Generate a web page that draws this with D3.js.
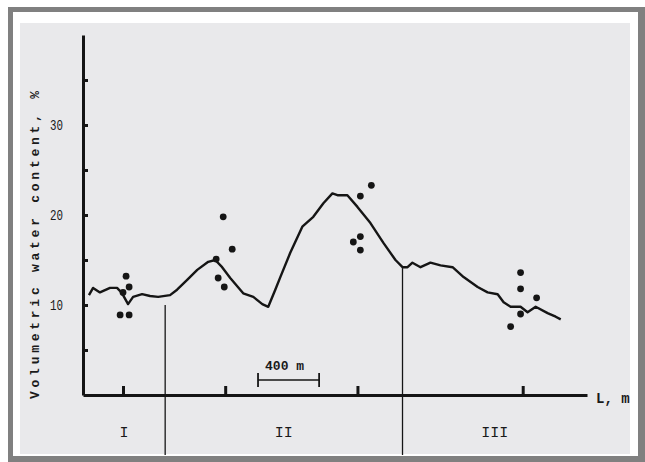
<!DOCTYPE html>
<html>
<head>
<meta charset="utf-8">
<script src="https://cdn.jsdelivr.net/npm/d3@7"></script>
<style>
  html, body { margin: 0; padding: 0; background: #ffffff; }
  svg { display: block; }
  text { font-family: "Liberation Mono", "DejaVu Sans Mono", monospace; fill: #1a1a1a; }
</style>
</head>
<body>
<svg id="chart" width="645" height="462"></svg>
<script>
// ---- data (distance L in metres, volumetric water content in %) ----
const lineL = [39, 66, 111, 177, 223, 256, 295, 328, 387, 439, 492, 570, 616, 682, 748, 820, 866, 911, 964, 1049, 1115, 1174, 1213, 1259, 1292, 1357, 1436, 1508, 1574, 1633, 1666, 1731, 1797, 1882, 1967, 2046, 2092, 2125, 2157, 2210, 2275, 2341, 2420, 2492, 2584, 2649, 2715, 2754, 2800, 2865, 2911, 2964, 3042, 3095, 3128];
const lineW = [11.1, 11.9, 11.4, 11.9, 11.9, 11.3, 10.1, 10.9, 11.2, 11.0, 10.9, 11.1, 11.7, 12.8, 13.9, 14.8, 15.0, 14.2, 13.0, 11.3, 10.9, 10.1, 9.8, 11.7, 13.1, 15.8, 18.7, 19.8, 21.3, 22.4, 22.2, 22.2, 20.9, 19.1, 16.9, 15.0, 14.2, 14.2, 14.7, 14.2, 14.7, 14.4, 14.2, 13.1, 12.0, 11.4, 11.2, 10.3, 9.8, 9.8, 9.2, 9.8, 9.1, 8.7, 8.4];

const pointL = [282, 302, 262, 243, 302, 918, 977, 872, 885, 925, 1816, 1888, 1770, 1816, 1816, 2865, 2865, 2970, 2865, 2800];
const pointW = [13.2, 12.0, 11.4, 8.9, 8.9, 19.8, 16.2, 15.1, 13.0, 12.0, 22.1, 23.3, 17.0, 17.6, 16.1, 13.6, 11.8, 10.8, 9.0, 7.6];

const sampleSitesL = [262, 931, 1797, 2879];        // marks on the L axis
const regionBounds = [538, 2092];                   // boundaries between zones
const regionBoundTopW = [10.0, 14.1];               // where boundary lines start
const regionNames = ["I", "II", "III"];
const yTickValues = [5, 10, 15, 20, 25, 30, 35];
const yTickLabels = [10, 20, 30];
const scaleBarL = [1146, 1546];                      // 400 m scale bar
const scaleBarText = "400 m";
const yTitle = "Volumetric water content, %";
const xTitle = "L, m";

// ---- layout ----
const svg = d3.select("#chart");
svg.append("rect").attr("x", 8).attr("y", 7).attr("width", 637).attr("height", 455).attr("fill", "#808080");
svg.append("rect").attr("x", 13).attr("y", 12).attr("width", 625).attr("height", 444).attr("fill", "#ffffff");
svg.append("rect").attr("x", 20).attr("y", 23).attr("width", 610).attr("height", 431).attr("fill", "#e9e9eb");

const x = d3.scaleLinear().domain([0, 3300]).range([83, 587]);
const y = d3.scaleLinear().domain([0, 40]).range([395, 35]);
const ink = "#151515";

// region boundary lines
svg.append("g").selectAll("line").data(regionBounds).join("line")
  .attr("x1", d => x(d)).attr("x2", d => x(d))
  .attr("y1", (d, i) => y(regionBoundTopW[i])).attr("y2", 455)
  .attr("stroke", ink).attr("stroke-width", 1.3);

// x axis
const xAxis = d3.axisBottom(x).tickValues(sampleSitesL).tickSizeInner(-9).tickSizeOuter(0).tickFormat("");
const gx = svg.append("g").attr("transform", `translate(0,${y(0)})`).call(xAxis);
gx.select(".domain").attr("stroke", ink).attr("stroke-width", 3.2);
gx.selectAll(".tick line").attr("stroke", ink).attr("stroke-width", 3);

// y axis
const yAxis = d3.axisLeft(y).tickValues(yTickValues).tickSizeInner(-5).tickSizeOuter(0).tickPadding(20)
  .tickFormat(d => yTickLabels.includes(d) ? String(d) : "");
const gy = svg.append("g").attr("transform", `translate(${x(0)},0)`).call(yAxis);
gy.select(".domain").attr("stroke", ink).attr("stroke-width", 3);
gy.selectAll(".tick line").attr("stroke", ink).attr("stroke-width", 3);
gy.selectAll(".tick text").attr("font-size", 14).attr("fill", "#222")
  .attr("font-family", "'Liberation Mono', monospace")
  .each(function(d){ if (yTickLabels.includes(d)) d3.select(this).attr("textLength", 13).attr("lengthAdjust", "spacingAndGlyphs"); });

// data line
const line = d3.line().x(d => x(d[0])).y(d => y(d[1])).curve(d3.curveLinear);
svg.append("path").datum(lineL.map((l, i) => [l, lineW[i]]))
  .attr("d", line).attr("fill", "none").attr("stroke", ink)
  .attr("stroke-width", 2.4).attr("stroke-linejoin", "round");

// measured points
svg.append("g").selectAll("circle").data(pointL.map((l, i) => [l, pointW[i]])).join("circle")
  .attr("cx", d => x(d[0])).attr("cy", d => y(d[1])).attr("r", 3.4).attr("fill", ink);

// scale bar
const sb = svg.append("g");
const sbY = 380;
sb.append("line").attr("x1", x(scaleBarL[0])).attr("x2", x(scaleBarL[1])).attr("y1", sbY).attr("y2", sbY)
  .attr("stroke", ink).attr("stroke-width", 1.6);
sb.selectAll(".end").data(scaleBarL).join("line").attr("class", "end")
  .attr("x1", d => x(d)).attr("x2", d => x(d)).attr("y1", sbY - 7).attr("y2", sbY + 7)
  .attr("stroke", ink).attr("stroke-width", 1.8);
sb.append("text").attr("x", x((scaleBarL[0] + scaleBarL[1]) / 2) - 4).attr("y", 370)
  .attr("text-anchor", "middle").attr("font-size", 13).attr("font-weight", "bold").text(scaleBarText);

// region labels
const edges = [0, ...regionBounds, 3300];
svg.append("g").selectAll("text").data(regionNames).join("text")
  .attr("x", (d, i) => x((edges[i] + edges[i + 1]) / 2)).attr("y", 437)
  .attr("text-anchor", "middle").attr("font-size", 15).text(d => d);

// axis titles
svg.append("text").attr("x", 596).attr("y", 403).attr("font-size", 14).attr("font-weight", "bold").text(xTitle);
svg.append("text").attr("transform", "translate(39,245) rotate(-90)")
  .attr("text-anchor", "middle").attr("font-size", 13).attr("font-weight", "bold")
  .attr("textLength", 308).attr("lengthAdjust", "spacing").text(yTitle);
</script>
</body>
</html>
